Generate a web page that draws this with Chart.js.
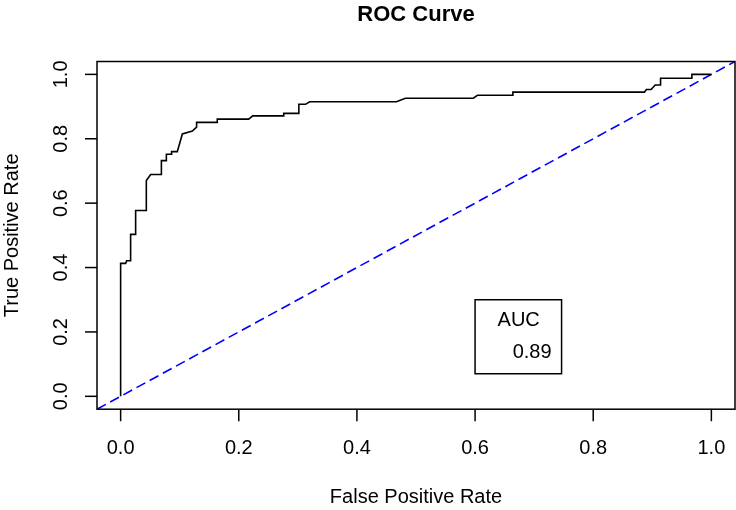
<!DOCTYPE html>
<html>
<head>
<meta charset="utf-8">
<script src="https://cdn.jsdelivr.net/npm/chart.js@4.4.1/dist/chart.umd.min.js"></script>
<style>
  html, body { margin: 0; padding: 0; background: #fff; }
  #wrap { width: 736px; height: 510px; }
</style>
</head>
<body>
<div id="wrap"><canvas id="roc" width="736" height="510"></canvas></div>
<script>
// ROC curve points
var fpr = [0, 0, 0.0085, 0.0102, 0.0169, 0.0169, 0.0254, 0.0254, 0.0435, 0.0435,
           0.0508, 0.069, 0.069, 0.0774, 0.0774, 0.0863, 0.0863, 0.0959, 0.1045, 0.1214,
           0.1286, 0.1286, 0.1636, 0.1636, 0.2168, 0.2236, 0.2761, 0.2761, 0.3017, 0.3017,
           0.313, 0.320, 0.467, 0.482, 0.597, 0.604, 0.664, 0.664, 0.8866, 0.890,
           0.898, 0.905, 0.914, 0.914, 0.967, 0.967, 1.0];
var tpr = [0, 0.413, 0.413, 0.421, 0.421, 0.503, 0.503, 0.577, 0.577, 0.670,
           0.689, 0.689, 0.732, 0.732, 0.752, 0.752, 0.760, 0.760, 0.815, 0.824,
           0.836, 0.851, 0.851, 0.861, 0.861, 0.871, 0.871, 0.879, 0.879, 0.907,
           0.907, 0.915, 0.915, 0.926, 0.926, 0.935, 0.935, 0.945, 0.945, 0.953,
           0.953, 0.967, 0.967, 0.988, 0.988, 1.0, 1.0];

// reference line y = x (abline), spans the whole plot region
var refX = [-0.04, 1.04];
var refY = [-0.04, 1.04];

var tickValues = [0, 0.2, 0.4, 0.6, 0.8, 1.0];
var tickLabels = ['0.0', '0.2', '0.4', '0.6', '0.8', '1.0'];

var aucTitle = 'AUC';
var aucValue = '0.89';
var legendCorner = [0.6, 0.3];

var FONT = '"Liberation Sans", Arial, Helvetica, sans-serif';

var rocFrame = {
    id: 'rocFrame',
    afterDatasetsDraw: function(chart) {
        var ctx = chart.ctx;
        var a = chart.chartArea;
        var x = chart.scales.x;
        var y = chart.scales.y;
        ctx.save();
        ctx.strokeStyle = '#000';
        ctx.fillStyle = '#000';
        ctx.lineWidth = 1.5;
        ctx.strokeRect(a.left, a.top, a.right - a.left, a.bottom - a.top);

        ctx.font = '20px ' + FONT;
        ctx.textAlign = 'center';
        ctx.textBaseline = 'alphabetic';
        tickValues.forEach(function(v, i) {
            var px = x.getPixelForValue(v);
            ctx.beginPath();
            ctx.moveTo(px, a.bottom);
            ctx.lineTo(px, a.bottom + 12);
            ctx.stroke();
            ctx.fillText(tickLabels[i], px, a.bottom + 45);

            var py = y.getPixelForValue(v);
            ctx.beginPath();
            ctx.moveTo(a.left, py);
            ctx.lineTo(a.left - 12, py);
            ctx.stroke();
            ctx.save();
            ctx.translate(a.left - 30.5, py);
            ctx.rotate(-Math.PI / 2);
            ctx.fillText(tickLabels[i], 0, 0);
            ctx.restore();
        });

        // axis titles
        var cx = (a.left + a.right) / 2;
        var cy = (a.top + a.bottom) / 2;
        ctx.fillText('False Positive Rate', cx, 503);
        ctx.save();
        ctx.translate(18, cy);
        ctx.rotate(-Math.PI / 2);
        ctx.fillText('True Positive Rate', 0, 0);
        ctx.restore();

        // main title
        ctx.font = 'bold 22px ' + FONT;
        ctx.fillText('ROC Curve', cx, 21);

        // AUC legend box
        var lx = x.getPixelForValue(legendCorner[0]);
        var ly = y.getPixelForValue(legendCorner[1]);
        ctx.strokeRect(lx, ly, 86.5, 74);
        ctx.font = '20px ' + FONT;
        ctx.textAlign = 'left';
        ctx.fillText(aucTitle, lx + 22.5, ly + 26.5);
        ctx.textAlign = 'right';
        ctx.fillText(aucValue, lx + 76.5, ly + 58.3);
        ctx.restore();
    }
};

var curvePts = fpr.map(function(v, i) { return {x: v, y: tpr[i]}; });
var refPts = refX.map(function(v, i) { return {x: v, y: refY[i]}; });

new Chart(document.getElementById('roc'), {
    type: 'scatter',
    data: {
        datasets: [
            {
                data: curvePts,
                showLine: true,
                borderColor: '#000',
                borderWidth: 1.6,
                pointRadius: 0,
                tension: 0
            },
            {
                data: refPts,
                showLine: true,
                borderColor: '#0000ff',
                borderWidth: 1.6,
                borderDash: [10, 5],
                pointRadius: 0
            }
        ]
    },
    options: {
        responsive: false,
        animation: false,
        layout: {
            padding: {left: 97, right: 1, top: 61.5, bottom: 100.8}
        },
        scales: {
            x: {type: 'linear', min: -0.04, max: 1.04, display: false},
            y: {type: 'linear', min: -0.04, max: 1.04, display: false}
        },
        plugins: {
            legend: {display: false},
            tooltip: {enabled: false},
            title: {display: false}
        }
    },
    plugins: [rocFrame]
});
</script>
</body>
</html>
